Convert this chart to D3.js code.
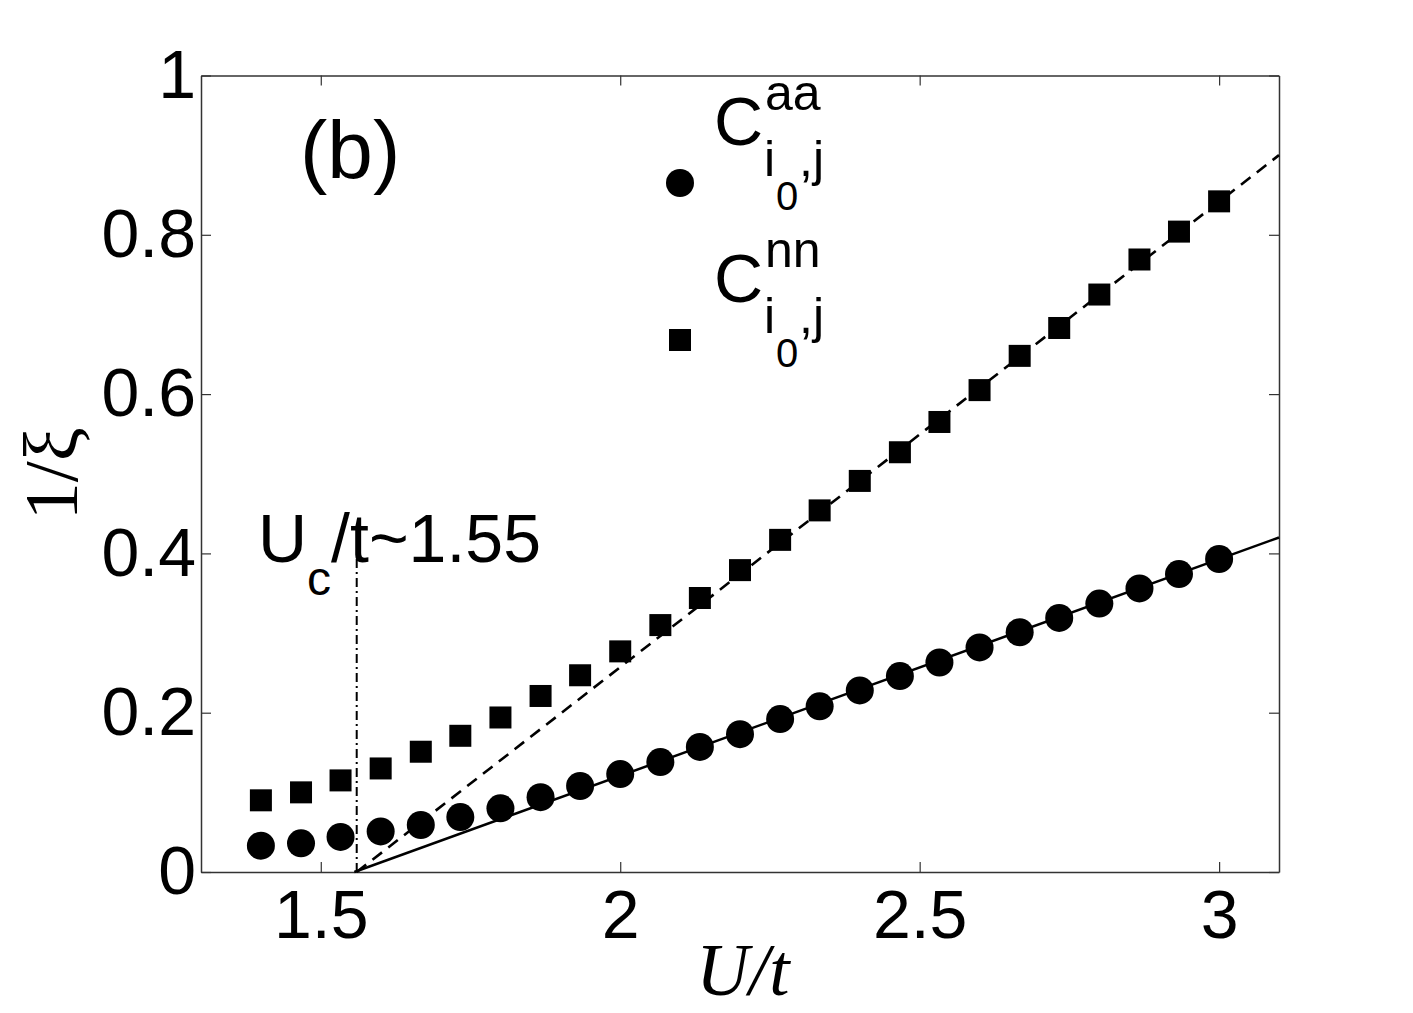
<!DOCTYPE html>
<html>
<head>
<meta charset="utf-8">
<script src="https://cdn.jsdelivr.net/npm/d3@7"></script>
<style>
  body { margin: 0; background: #fff; }
  text { font-family: "Liberation Sans", Arial, Helvetica, sans-serif; fill: #000; }
</style>
</head>
<body>
<div id="chart"></div>
<script>
// U/t values of the data points
const uValues = [1.4, 1.467, 1.533, 1.6, 1.667, 1.733, 1.8, 1.867, 1.933, 2.0,
                 2.067, 2.133, 2.2, 2.267, 2.333, 2.4, 2.467, 2.533, 2.6, 2.667,
                 2.733, 2.8, 2.867, 2.933, 3.0];
// 1/xi from C^aa (circles)
const aaValues = [0.033, 0.036, 0.044, 0.051, 0.059, 0.069, 0.080, 0.094, 0.108, 0.123,
                  0.138, 0.157, 0.173, 0.192, 0.208, 0.228, 0.246, 0.263, 0.282, 0.301,
                  0.319, 0.337, 0.356, 0.374, 0.393];
// 1/xi from C^nn (squares)
const nnValues = [0.090, 0.100, 0.115, 0.130, 0.151, 0.171, 0.194, 0.221, 0.247, 0.277,
                  0.310, 0.344, 0.379, 0.417, 0.454, 0.491, 0.527, 0.565, 0.605, 0.648,
                  0.683, 0.725, 0.769, 0.804, 0.842];
// linear fits and critical point marker
const fitAA = [[1.556, 0], [3.1, 0.42]];
const fitNN = [[1.56, 0], [3.1, 0.90]];
const ucLine = [[1.56, 0], [1.56, 0.395]];

const xTicks = [1.5, 2, 2.5, 3];
const yTicks = [0, 0.2, 0.4, 0.6, 0.8, 1];
const legendItems = [{sup: "aa", marker: "circle"}, {sup: "nn", marker: "square"}];

const width = 1413, height = 1013;
const margin = {top: 75.5, right: 134, bottom: 141, left: 201};

const svg = d3.select("#chart").append("svg")
    .attr("width", width)
    .attr("height", height);

const x = d3.scaleLinear().domain([1.3, 3.1]).range([margin.left, width - margin.right]);
const y = d3.scaleLinear().domain([0, 1]).range([height - margin.bottom, margin.top]);

//axes on all four sides, ticks pointing inward
const fmt = d3.format("~g");
function styleAxis(g) {
    g.select(".domain").attr("stroke", "#333").attr("stroke-width", 1.5);
    g.selectAll(".tick line").attr("stroke", "#333").attr("stroke-width", 1.2);
    g.selectAll("text").attr("font-size", 68).attr("font-family", "Liberation Sans, Arial, sans-serif");
}
svg.append("g")
    .attr("transform", "translate(0," + y(0) + ")")
    .call(d3.axisBottom(x).tickValues(xTicks).tickFormat(fmt).tickSize(-10).tickSizeOuter(0).tickPadding(18))
    .call(styleAxis);
svg.append("g")
    .attr("transform", "translate(0," + y(1) + ")")
    .call(d3.axisTop(x).tickValues(xTicks).tickFormat("").tickSize(-10).tickSizeOuter(0))
    .call(styleAxis);
svg.append("g")
    .attr("transform", "translate(" + x(1.3) + ",0)")
    .call(d3.axisLeft(y).tickValues(yTicks).tickFormat(fmt).tickSize(-10).tickSizeOuter(0).tickPadding(5))
    .call(styleAxis);
svg.append("g")
    .attr("transform", "translate(" + x(3.1) + ",0)")
    .call(d3.axisRight(y).tickValues(yTicks).tickFormat("").tickSize(-10).tickSizeOuter(0))
    .call(styleAxis);

//fit lines
let line = d3.line().x(d => x(d[0])).y(d => y(d[1]));
svg.append("path").attr("d", line(fitAA))
    .attr("fill", "none").attr("stroke", "#000").attr("stroke-width", 2.5);
svg.append("path").attr("d", line(fitNN))
    .attr("fill", "none").attr("stroke", "#000").attr("stroke-width", 2.6)
    .attr("stroke-dasharray", "12,8");
svg.append("path").attr("d", line(ucLine))
    .attr("fill", "none").attr("stroke", "#000").attr("stroke-width", 2)
    .attr("stroke-dasharray", "9,4,2,4");

//data markers
let side = 22;
svg.selectAll("circle.aa").data(uValues)
    .enter().append("circle")
    .attr("class", "aa")
    .attr("cx", d => x(d))
    .attr("cy", (d, i) => y(aaValues[i]))
    .attr("r", 14)
    .attr("fill", "#000");
svg.selectAll("rect.nn").data(uValues)
    .enter().append("rect")
    .attr("class", "nn")
    .attr("x", d => x(d) - side / 2)
    .attr("y", (d, i) => y(nnValues[i]) - side / 2)
    .attr("width", side)
    .attr("height", side)
    .attr("fill", "#000");

//legend
legendItems.forEach((item, k) => {
    let base = 145 + 157 * k;
    let g = svg.append("g");
    if (item.marker == "circle") {
        g.append("circle").attr("cx", 680).attr("cy", base + 38).attr("r", 14).attr("fill", "#000");
    } else {
        g.append("rect").attr("x", 680 - side / 2).attr("y", base + 38 - side / 2)
            .attr("width", side).attr("height", side).attr("fill", "#000");
    }
    g.append("text").attr("x", 714).attr("y", base).attr("font-size", 68).text("C");
    g.append("text").attr("x", 765).attr("y", base - 35).attr("font-size", 50).text(item.sup);
    g.append("text").attr("x", 764).attr("y", base + 31).attr("font-size", 50).text("i");
    g.append("text").attr("x", 776).attr("y", base + 65).attr("font-size", 40).text("0");
    g.append("text").attr("x", 799).attr("y", base + 31).attr("font-size", 50).text(",j");
});

//panel label
svg.append("text").attr("x", 300).attr("y", 178).attr("font-size", 82).text("(b)");

//critical value label
let uc = svg.append("text").attr("x", 258).attr("y", 562).attr("font-size", 68);
uc.append("tspan").text("U");
uc.append("tspan").attr("dy", 33).attr("font-size", 48).text("c");
uc.append("tspan").attr("dy", -33).text("/t~1.55");

//axis titles
svg.append("text")
    .attr("x", (x(1.3) + x(3.1)) / 2 + 3)
    .attr("y", 995)
    .attr("text-anchor", "middle")
    .attr("font-size", 73)
    .style("font-family", "'Liberation Serif', 'Times New Roman', serif")
    .style("font-style", "italic")
    .text("U/t");
svg.append("text")
    .attr("transform", "translate(77," + (y(0.5)) + ") rotate(-90)")
    .attr("text-anchor", "middle")
    .attr("font-size", 76)
    .style("font-family", "'Liberation Serif', 'Times New Roman', serif")
    .text("1/ξ");
</script>
</body>
</html>
